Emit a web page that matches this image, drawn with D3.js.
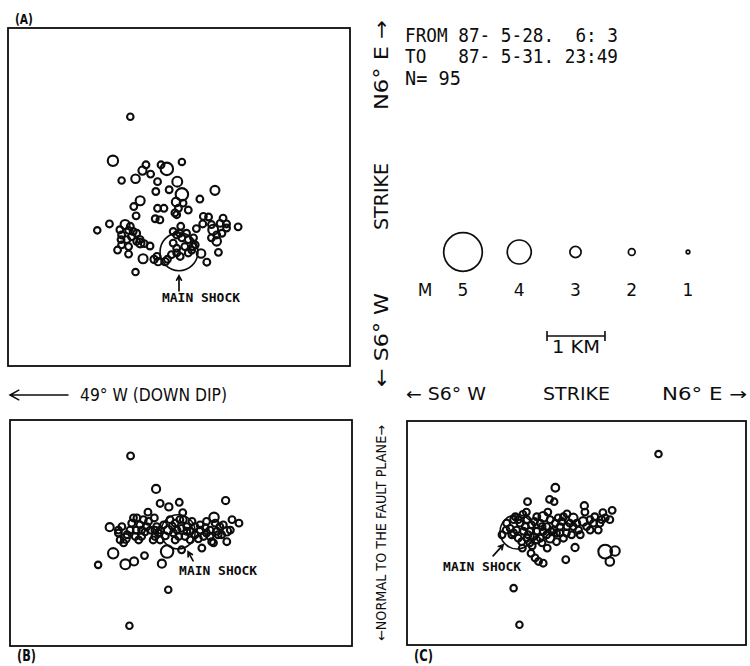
<!DOCTYPE html>
<html><head><meta charset="utf-8">
<script src="https://cdn.jsdelivr.net/npm/d3@7"></script>
<style>
html,body{margin:0;padding:0;background:#fff;}
svg{display:block;}
</style></head><body>
<svg id="chart" width="750" height="666"></svg>
<script>
// ---------------- DATA ----------------
// Header texts
const headerLines = ["FROM 87- 5-28.  6: 3", "TO   87- 5-31. 23:49", "N= 95"];
// Legend magnitudes
const legendMags = [5, 4, 3, 2, 1];
const scaleBarKm = 1;

// Panel extents in km (relative to the main shock)
const domainA_x = [-2.95, 2.95], domainA_y = [-1.97, 3.86];   // down-dip / strike
const domainB_x = [-2.90, 3.00], domainB_y = [-1.97, 1.93];   // down-dip / normal
const domainC_x = [-1.90, 3.95], domainC_y = [-1.95, 1.91];   // strike / normal

// (A) fault-plane view: [down-dip km, strike km, magnitude]
const quakesA = [
[-0.84,2.33,1.9],[-1.14,1.57,2.8],[-0.57,1.50,2.0],[-0.31,1.50,2.0],[-0.21,1.43,3.1],[0.05,1.55,1.9],[-0.63,1.40,2.3],[-0.49,1.34,2.0],[-0.99,1.23,1.9],[-0.75,1.26,2.4],
[-0.37,1.21,2.0],[-0.03,1.21,2.7],[-0.17,1.07,2.0],[0.05,0.99,3.1],[0.62,1.06,2.5],[-0.40,1.04,2.0],[-0.67,0.88,2.5],[-0.78,0.78,2.0],[-0.05,0.86,2.4],[0.07,0.84,2.0],
[0.36,0.91,2.0],[-0.37,0.75,2.0],[-0.26,0.75,2.0],[-0.01,0.75,2.0],[0.16,0.72,2.0],[-0.07,0.67,2.0],[-0.74,0.62,2.0],[-0.41,0.57,2.0],[-0.33,0.55,2.0],[-0.04,0.64,2.0],
[0.42,0.61,2.0],[0.51,0.60,2.0],[0.41,0.48,2.0],[0.76,0.58,2.0],[0.82,0.48,2.0],[0.71,0.49,2.0],[1.02,0.43,2.0],[0.59,0.38,2.7],[0.65,0.29,2.0],[0.74,0.32,2.0],
[0.56,0.24,2.0],[0.65,0.18,2.4],[-1.41,0.37,1.9],[-1.20,0.48,2.0],[-0.93,0.47,2.5],[-1.02,0.38,2.0],[-0.87,0.37,2.0],[-0.99,0.29,2.0],[-0.82,0.26,2.0],[-0.73,0.32,2.0],
[-0.90,0.21,2.0],[-0.73,0.18,2.0],[-0.67,0.15,2.4],[-0.60,0.14,2.0],[-0.99,0.12,2.0],[-1.06,0.03,2.0],[-0.87,-0.04,2.0],[-0.62,-0.12,2.5],[-0.75,-0.35,1.9],[0.03,0.44,2.0],
[-0.04,0.29,2.0],[0.05,0.24,2.0],[0.16,0.21,2.0],[0.25,0.24,2.0],[0.10,0.09,2.0],[0.24,0.09,2.0],[-0.04,0.06,2.0],[-0.13,-0.05,2.0],[-0.04,-0.02,2.0],[0.16,-0.02,2.0],
[0.38,-0.03,2.4],[0.68,-0.01,2.0],[0.48,-0.18,2.0],[-0.43,-0.13,2.1],[-0.36,-0.17,2.1],[-0.24,-0.17,2.1],[-0.20,-0.13,2.0],[-0.38,-0.08,2.0],[0.00,0.00,4.95],[-0.10,0.35,2.0],
[0.01,0.32,2.0],[-0.87,0.09,2.0],[-0.79,0.35,2.0],[-0.84,0.44,2.0],[-0.67,0.21,2.0],[0.13,0.32,2.0],[0.28,0.12,2.0],[0.56,0.47,2.0],[0.82,0.41,2.0],[-0.10,0.15,2.0],
[0.02,-0.08,2.0],[0.22,0.03,2.0],[-0.50,0.10,2.0],[-1.00,0.21,2.0],[0.30,0.40,2.0]
];

// (B) down-dip vs normal: [down-dip km, normal km, magnitude]
const quakesB = [
[-0.82,1.31,2.0],[-0.38,0.74,2.3],[-0.31,0.49,2.0],[-0.16,0.43,2.1],[0.02,0.51,2.0],[0.82,0.54,2.1],[-1.18,0.08,2.3],[-0.97,0.09,2.0],[-1.03,-0.02,2.0],[-1.00,-0.14,2.0],
[-0.91,-0.11,2.5],[-0.83,0.03,2.0],[-0.80,0.15,2.0],[-0.71,0.24,2.0],[-0.66,0.12,2.0],[-0.72,0.03,2.0],[-0.74,-0.08,2.0],[-0.60,0.21,2.0],[-0.51,0.18,2.0],[-0.41,0.24,2.0],
[-0.48,0.03,2.0],[-0.37,0.09,2.0],[-0.40,-0.08,2.0],[-0.31,0.03,2.0],[-0.31,-0.14,2.0],[-0.17,0.03,2.4],[-0.05,0.15,2.0],[0.03,0.21,2.0],[0.08,0.33,2.0],[-0.02,0.03,2.0],
[0.06,0.06,2.0],[0.15,0.09,2.0],[0.21,0.01,2.0],[0.01,-0.08,2.0],[0.12,-0.08,2.0],[-0.05,-0.14,2.0],[0.29,-0.05,2.0],[0.00,0.00,4.7],[0.38,0.03,2.0],[0.49,0.18,2.0],
[0.62,0.25,2.6],[0.64,0.15,2.0],[0.78,0.12,2.0],[0.55,0.03,2.0],[0.67,0.01,2.0],[0.72,0.09,2.0],[0.84,0.01,2.4],[0.44,-0.08,2.0],[0.55,-0.08,2.0],[0.69,-0.05,2.0],
[0.58,-0.17,2.0],[0.84,-0.17,2.0],[1.05,0.15,2.0],[-1.12,-0.37,2.8],[-0.91,-0.56,2.7],[-0.76,-0.51,2.3],[-0.58,-0.41,2.0],[-0.19,-0.34,3.1],[-0.28,-0.55,2.3],[0.06,-0.31,2.0],
[0.41,-0.28,2.0],[-1.38,-0.57,1.9],[-0.17,-1.00,1.9],[-0.84,-1.62,1.9],[-0.63,-0.08,2.0],[-0.88,-0.05,2.0],[-0.25,0.12,2.0],[-0.14,0.21,2.0],[0.24,0.18,2.0],[0.15,0.01,2.0],
[-0.08,-0.02,2.0],[0.38,0.12,2.0],[0.75,-0.05,2.0],[0.61,-0.19,2.0],[-0.77,0.24,2.0],[-0.63,0.03,2.0],[-0.54,0.09,2.0],[-1.03,0.03,2.0],[-0.94,-0.19,2.0],[-0.43,-0.14,2.0],
[-0.34,-0.02,2.0],[0.49,-0.02,2.0],[0.90,0.03,2.0],[-0.68,-0.14,2.0],[0.09,0.21,2.0],[-0.40,0.03,2.0],[0.29,0.09,2.0],[-0.57,0.00,2.0],[-0.22,-0.07,2.0],[0.47,0.07,2.0],
[0.21,-0.14,2.0],[-0.52,0.34,2.0],[0.93,0.21,2.0],[-0.10,0.10,2.0],[0.35,-0.12,2.0]
];

// (C) strike vs normal: [strike km, normal km, magnitude]
const quakesC = [
[2.44,1.34,1.9],[0.66,0.76,2.2],[0.18,0.52,2.0],[0.56,0.56,2.0],[0.64,0.52,1.9],[1.16,0.45,2.1],[1.64,0.37,2.0],[-0.06,-0.97,1.9],[0.04,-1.60,1.9],[1.52,-0.34,3.2],
[1.69,-0.33,2.6],[1.60,-0.51,2.4],[0.84,-0.48,2.0],[1.00,-0.27,2.1],[0.52,-0.28,2.0],[0.24,-0.37,2.0],[0.31,-0.45,2.0],[0.37,-0.51,2.0],[0.45,-0.54,2.0],[0.00,0.00,4.7],
[0.45,0.26,2.6],[0.40,0.15,2.0],[0.71,0.24,2.0],[0.86,0.31,2.0],[0.97,0.24,2.4],[1.14,0.18,2.4],[1.34,0.26,2.0],[1.46,0.21,2.0],[1.60,0.21,2.0],[1.32,0.15,2.0],
[1.26,0.03,2.0],[1.09,-0.05,2.0],[0.94,-0.05,2.0],[0.80,-0.11,2.0],[0.68,-0.17,2.0],[0.57,-0.11,2.4],[0.86,0.09,2.0],[0.74,0.09,2.0],[0.63,0.03,2.0],[-0.06,0.21,2.0],
[0.05,0.15,2.0],[0.17,0.21,2.0],[0.25,0.12,2.0],[0.34,0.26,2.0],[-0.12,0.06,2.0],[-0.01,0.03,2.0],[0.11,0.01,2.0],[0.22,0.01,2.0],[0.34,0.01,2.0],[0.45,0.01,2.0],
[0.51,0.09,2.0],[-0.09,-0.05,2.0],[0.02,-0.11,2.0],[0.17,-0.11,2.0],[0.28,-0.08,2.0],[0.40,-0.11,2.0],[0.08,-0.17,2.0],[0.22,-0.19,2.0],[-0.26,-0.05,2.0],[-0.03,0.26,2.0],
[0.57,0.21,2.0],[0.66,0.15,2.0],[0.77,0.18,2.0],[0.97,0.09,2.0],[1.06,0.03,2.0],[1.20,0.09,2.0],[1.43,0.15,2.0],[1.52,0.24,2.0],[0.43,0.09,2.0],[0.14,0.09,2.0],
[-0.18,0.15,2.0],[0.02,0.21,2.0],[-0.06,-0.02,2.0],[0.19,-0.05,2.0],[0.51,-0.05,2.0],[0.74,-0.02,2.0],[0.34,-0.14,2.0],[0.68,-0.02,2.0],[0.91,0.15,2.0],[1.03,0.15,2.0],
[0.80,0.26,2.0],[1.26,0.21,2.0],[0.43,-0.19,2.0],[0.16,0.34,2.0],[0.26,-0.24,2.0],[0.53,0.34,2.0],[1.40,0.03,2.0],[-0.19,0.03,2.0],[0.09,-0.28,2.0],[1.17,0.34,2.0],
[1.48,0.33,2.0],[0.30,0.18,2.0],[0.60,0.00,2.0],[0.10,0.30,2.0],[0.85,-0.02,2.0]
];

// ---------------- DRAWING ----------------
const ink = "#0d0d0d";
const svg = d3.select("#chart");
svg.append("rect").attr("width", 750).attr("height", 666).attr("fill", "#fff");

// magnitude -> circle radius (px)
const rScale = d3.scaleLinear().domain([1, 2, 3, 4, 5]).range([1.8, 3.4, 5.6, 12, 19.3]);

function arrow(g, x1, y1, x2, y2, head, sw) {
  const a = Math.atan2(y2 - y1, x2 - x1);
  const h = head || 6;
  const p = d3.path();
  p.moveTo(x1, y1); p.lineTo(x2, y2);
  p.moveTo(x2 - h * Math.cos(a - 0.5), y2 - h * Math.sin(a - 0.5));
  p.lineTo(x2, y2);
  p.lineTo(x2 - h * Math.cos(a + 0.5), y2 - h * Math.sin(a + 0.5));
  g.append("path").attr("d", p.toString()).attr("fill", "none")
    .attr("stroke", ink).attr("stroke-width", sw || 1.6).attr("stroke-linecap", "round");
}

function txt(x, y, s, o) {
  o = o || {};
  const t = svg.append("text").attr("x", x).attr("y", y).text(s)
    .attr("fill", ink)
    .attr("font-family", o.family || "'DejaVu Sans', sans-serif")
    .attr("font-size", o.size || 17)
    .attr("font-weight", o.weight || "normal")
    .attr("text-anchor", o.anchor || "start")
    .style("white-space", "pre");
  if (o.len) t.attr("textLength", o.len).attr("lengthAdjust", "spacingAndGlyphs");
  if (o.rot) t.attr("transform", `rotate(-90, ${x}, ${y})`);
  return t;
}

const panels = [
  { data: quakesA, xd: domainA_x, yd: domainA_y, px: [8, 350], py: [366, 28],
    ms: { dx: -17, dy: 50, a: [0, 39, 0, 24] } },
  { data: quakesB, xd: domainB_x, yd: domainB_y, px: [10, 352], py: [646, 420],
    ms: { dx: 1, dy: 43, a: [15, 29, 10, 20] } },
  { data: quakesC, xd: domainC_x, yd: domainC_y, px: [407, 746], py: [645, 421],
    ms: { dx: -74, dy: 39, a: [-24, 24, -14, 13] } }
];

const scalesA = {};
panels.forEach((p, i) => {
  const x = d3.scaleLinear().domain(p.xd).range(p.px);
  const y = d3.scaleLinear().domain(p.yd).range(p.py);
  if (i === 0) { scalesA.x = x; scalesA.y = y; }
  const g = svg.append("g");
  g.append("rect")
    .attr("x", p.px[0]).attr("y", p.py[1])
    .attr("width", p.px[1] - p.px[0]).attr("height", p.py[0] - p.py[1])
    .attr("fill", "none").attr("stroke", ink).attr("stroke-width", 1.8);
  g.selectAll("circle").data(p.data).join("circle")
    .attr("cx", d => x(d[0])).attr("cy", d => y(d[1]))
    .attr("r", d => rScale(d[2]))
    .attr("fill", "none").attr("stroke", ink)
    .attr("stroke-width", d => d[2] > 4 ? 1.6 : 2.1);
  // main shock annotation
  const mx = x(0), my = y(0);
  arrow(g, mx + p.ms.a[0], my + p.ms.a[1], mx + p.ms.a[2], my + p.ms.a[3], 5, 1.7);
  txt(mx + p.ms.dx, my + p.ms.dy, "MAIN SHOCK",
      { family: "'DejaVu Sans Mono', monospace", size: 12, weight: "bold", len: 78 });
});

// panel letters
txt(15, 24, "(A)", { size: 14, weight: "bold", len: 18 });
txt(17, 661, "(B)", { size: 15, weight: "bold", len: 19 });
txt(414, 661, "(C)", { size: 15, weight: "bold", len: 19 });

// header
headerLines.forEach((s, i) => {
  txt(405, [42, 63, 85][i], s, { family: "'DejaVu Sans Mono', monospace", size: 19,
       len: i < 2 ? 213 : 56 });
});

// vertical strike label between A and C
txt(388, 110, "N6\u00B0 E \u2192", { size: 20, rot: true, len: 90 });
txt(388, 230, "STRIKE", { size: 20, rot: true, len: 67 });
txt(388, 387, "\u2190 S6\u00B0 W", { size: 20, rot: true, len: 94 });

// vertical normal label between B and C
txt(386, 641, "\u2190NORMAL TO THE FAULT PLANE\u2192", { size: 13.5, rot: true, len: 216 });

// bottom labels of the upper row
arrow(svg, 68, 395, 10, 395, 10, 1.5);
txt(80, 401, "49\u00B0 W (DOWN DIP)", { size: 17, len: 147 });
txt(406, 400, "\u2190 S6\u00B0 W", { size: 17, len: 80 });
txt(543, 400, "STRIKE", { size: 17, len: 67 });
txt(662, 400, "N6\u00B0 E \u2192", { size: 17, len: 85 });

// legend
const lx = d3.scalePoint().domain(legendMags).range([463, 688]);
svg.append("g").selectAll("circle").data(legendMags).join("circle")
  .attr("cx", d => lx(d)).attr("cy", 252).attr("r", d => rScale(d))
  .attr("fill", "none").attr("stroke", ink).attr("stroke-width", 1.7);
txt(425, 296, "M", { size: 17, anchor: "middle" });
legendMags.forEach(m => txt(lx(m), 296, String(m), { size: 17, anchor: "middle" }));

// scale bar (1 km at the plot scale)
const barPx = scalesA.x(scaleBarKm) - scalesA.x(0);
const bx = 547, by = 336;
const sb = d3.path();
sb.moveTo(bx, by); sb.lineTo(bx + barPx, by);
sb.moveTo(bx, by - 5); sb.lineTo(bx, by + 5);
sb.moveTo(bx + barPx, by - 5); sb.lineTo(bx + barPx, by + 5);
svg.append("path").attr("d", sb.toString()).attr("fill", "none")
  .attr("stroke", ink).attr("stroke-width", 1.6);
txt(bx + barPx / 2, 353, "1 KM", { size: 17, anchor: "middle", len: 48 });
</script>
</body></html>
